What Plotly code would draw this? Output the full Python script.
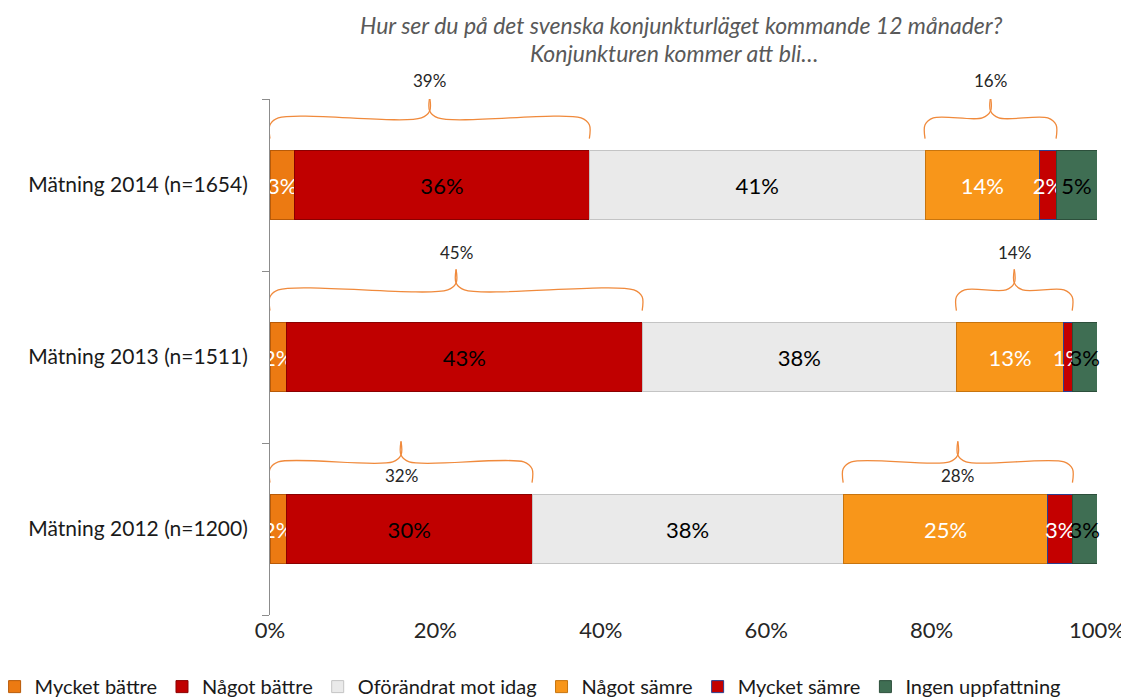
import plotly.graph_objects as go

# survey rows, bottom to top
measurements = ['Mätning 2012 (n=1200)', 'Mätning 2013 (n=1511)', 'Mätning 2014 (n=1654)']
rows = [0, 1, 2]

answers = ['Mycket bättre', 'Något bättre', 'Oförändrat mot idag',
           'Något sämre', 'Mycket sämre', 'Ingen uppfattning']

mycket_battre = [2, 2, 3]
nagot_battre = [30, 43, 36]
oforandrat = [38, 38, 41]
nagot_samre = [25, 13, 14]
mycket_samre = [3, 1, 2]
ingen_uppfattning = [3, 3, 5]

x_ticks = [0, 20, 40, 60, 80, 100]

series = [mycket_battre, nagot_battre, oforandrat, nagot_samre, mycket_samre, ingen_uppfattning]

fills = ['#EC7A12', '#C00000', '#EAEAEA', '#F8961A', '#C40000', '#3F6E53']
edges = ['#B85A08', '#8A0000', '#C4C4C4', '#C7740E', '#2B3F8F', '#2C4F3B']
text_colors = ['white', 'black', 'black', 'white', 'white', 'black']

font = 'Lato, Open Sans, sans-serif'
brace_color = '#F08A3C'
y_range = [-0.5, 2.5]

fig = go.Figure()

for name, vals, fc, ec, tc in zip(answers, series, fills, edges, text_colors):
    fig.add_trace(go.Bar(
        y=rows, x=vals, name=name, orientation='h', width=0.4,
        marker=dict(color=fc, line=dict(color=ec, width=1)),
        text=[f'{v}%' for v in vals], textposition='inside',
        insidetextanchor='middle', textangle=0, constraintext='none',
        cliponaxis=False,
        textfont=dict(family=font, size=22, color=tc),
        hoverinfo='skip'))


def brace(x0, x1, yc, ye=0.27, yh=0.39, yp=0.51, r=1.0, c=0.04):
    xm = (x0 + x1) / 2
    xs = [x0, x0, x0 + r, xm - r, xm, xm, None,
          xm, xm, xm + r, x1 - r, x1, x1]
    ys = [yc + ye, yc + yh - c, yc + yh, yc + yh, yc + yh + c, yc + yp, None,
          yc + yp, yc + yh + c, yc + yh, yc + yh, yc + yh - c, yc + ye]
    return xs, ys


def to_paper(y):
    return (y - y_range[0]) / (y_range[1] - y_range[0])


# brackets: sum of "better" and sum of "worse" per row
label_offsets = [0.31, 0.61, 0.61]
for i in rows:
    total = sum(s[i] for s in series)
    better = mycket_battre[i] + nagot_battre[i]
    worse = nagot_samre[i] + mycket_samre[i]
    start_worse = (better + oforandrat[i]) / total * 100
    spans = [(0, better / total * 100, better),
             (start_worse, start_worse + worse / total * 100, worse)]
    for a, b, lab in spans:
        xs, ys = brace(a, b, i)
        fig.add_trace(go.Scatter(x=xs, y=ys, mode='lines', showlegend=False,
                                 line=dict(color=brace_color, width=1.3, shape='spline'),
                                 cliponaxis=False, hoverinfo='skip'))
        fig.add_annotation(x=(a + b) / 2, y=to_paper(i + label_offsets[i]), text=f'{lab}%',
                           showarrow=False, xref='x', yref='paper',
                           xanchor='center', yanchor='middle',
                           font=dict(family=font, size=17, color='#262626'))

fig.add_annotation(text='Hur ser du på det svenska konjunkturläget kommande 12 månader?',
                   x=0.497, y=1.143, xref='paper', yref='paper', showarrow=False,
                   xanchor='center', yanchor='middle',
                   font=dict(family=font, size=23, color='#595959', style='italic'))
fig.add_annotation(text='Konjunkturen kommer att bli…',
                   x=0.489, y=1.089, xref='paper', yref='paper', showarrow=False,
                   xanchor='center', yanchor='middle',
                   font=dict(family=font, size=23, color='#595959', style='italic'))

# page body adds an 8px offset, so the figure is 8px smaller than the window
fig.update_layout(
    barmode='stack', barnorm='percent',
    width=1121, height=689,
    margin=dict(l=262, r=32, t=91, b=82, autoexpand=False),
    plot_bgcolor='white', paper_bgcolor='white',
    font=dict(family=font, color='#262626'),
    showlegend=True,
    legend=dict(orientation='h', x=-0.333, xanchor='left', y=-0.101, yanchor='top',
                font=dict(family=font, size=20, color='#1a1a1a'),
                traceorder='normal'),
    xaxis=dict(range=[0, 100], tickvals=x_ticks, ticktext=[f'{t}%' for t in x_ticks],
               showgrid=False, zeroline=False, showline=False, automargin=False,
               tickfont=dict(family=font, size=22, color='#262626')),
    yaxis=dict(range=y_range, tickvals=rows, ticktext=measurements,
               ticks='', showgrid=False, zeroline=False, automargin=False,
               showline=True, linecolor='#8C8C8C', linewidth=1,
               ticklabelstandoff=17,
               tickfont=dict(family=font, size=21, color='#1a1a1a'),
               minor=dict(tickvals=[-0.5, 0.5, 1.5, 2.5], ticks='outside',
                          ticklen=7, tickcolor='#8C8C8C', showgrid=False)),
)

fig.write_html('out.html')
